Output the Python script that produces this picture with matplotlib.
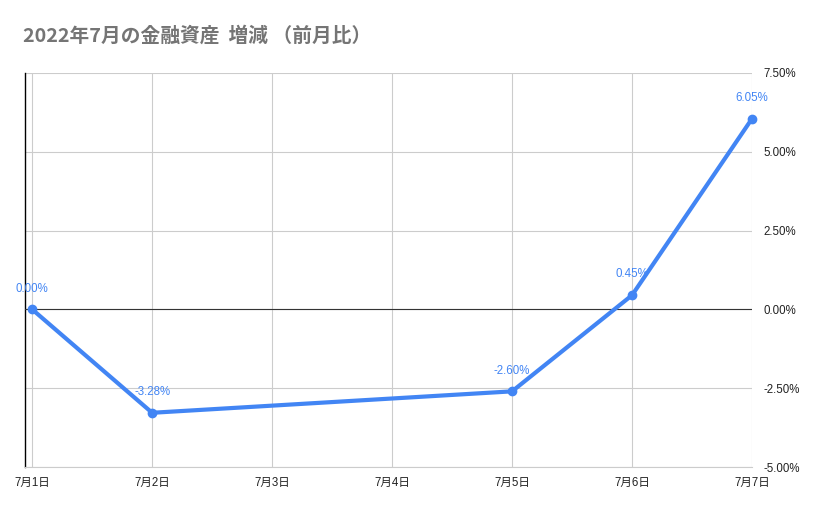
import numpy as np
import matplotlib
matplotlib.use("Agg")
import matplotlib.pyplot as plt
from matplotlib.ticker import FuncFormatter

plt.rcParams['font.family'] = ['Liberation Sans', 'Noto Sans CJK JP', 'DejaVu Sans']

# data
days = [1, 2, 5, 6, 7]
values = [0.00, -3.28, -2.60, 0.45, 6.05]
tick_days = [1, 2, 3, 4, 5, 6, 7]
tick_labels = ['7月1日', '7月2日', '7月3日', '7月4日', '7月5日', '7月6日', '7月7日']
y_ticks = [-5.0, -2.5, 0.0, 2.5, 5.0, 7.5]

title = '2022年7月の金融資産  増減 （前月比）'
blue = '#4285F4'

fig = plt.figure(figsize=(8.29, 5.14), dpi=100)
ax = fig.add_axes([25 / 829, 1 - 467 / 514, (752 - 25) / 829, (467 - 73) / 514])

ax.plot(days, values, color=blue, linewidth=3, marker='o', markersize=6, zorder=4,
        solid_capstyle='round', clip_on=False)
for d, v in zip(days, values):
    ax.annotate(f'{v:.2f}%', (d, v), xytext=(0, 15), textcoords='offset points',
                ha='center', va='center', fontsize=8.3, color=blue, zorder=5)

ax.set_xlim(0.94, 7)
ax.set_ylim(-5, 7.5)
ax.set_xticks(tick_days)
ax.set_xticklabels(tick_labels)
ax.set_yticks(y_ticks)
ax.yaxis.set_major_formatter(FuncFormatter(lambda v, p: f'{v:.2f}%'))
ax.yaxis.tick_right()

ax.grid(True, color='#cccccc', linewidth=0.8)
ax.set_axisbelow(True)
ax.axhline(0, color='#333333', linewidth=0.8, zorder=3)
ax.tick_params(axis='both', length=0, labelsize=8.3, colors='#222222')
ax.tick_params(axis='x', pad=7)
ax.tick_params(axis='y', pad=8)

for s in ['top', 'right']:
    ax.spines[s].set_visible(False)
ax.spines['bottom'].set_color('#cccccc')
ax.spines['left'].set_color('#000000')
ax.spines['left'].set_linewidth(1)

fig.text(23 / 829, 1 - 36 / 514, title, fontsize=14.2, fontweight='bold',
         color='#757575', va='center', ha='left',
         family=['Noto Sans CJK JP', 'DejaVu Sans'])

fig.savefig('out.png', dpi=100)
